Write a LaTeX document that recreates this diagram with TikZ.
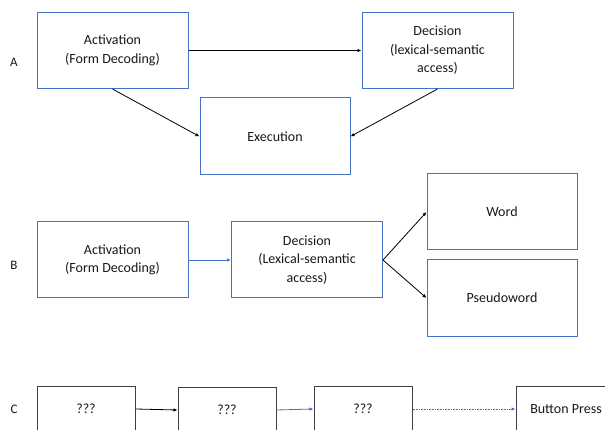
\documentclass[tikz,border=0pt]{standalone}
\usepackage{fontspec}
\setmainfont{Carlito}
\usetikzlibrary{arrows.meta}
\definecolor{bbox}{HTML}{4472C4}
\definecolor{gbox}{HTML}{404040}
\begin{document}
\begin{tikzpicture}[x=1pt,y=-1pt,
  every node/.style={font=\fontsize{14}{18.5}\selectfont, text=black!90},
  bluebox/.style={draw=bbox, line width=1pt, minimum width=151pt, minimum height=76pt, align=center, inner sep=0pt},
  graybox/.style={draw=gbox, line width=1pt, minimum width=98pt, minimum height=46pt, align=center, inner sep=0pt},
  lab/.style={font=\fontsize{13}{15}\selectfont},
  arr/.style={-{Latex[length=4pt,width=3.5pt]}, line width=0.8pt, draw=black},
  barr/.style={-{Latex[length=4pt,width=3.5pt]}, line width=0.8pt, draw=bbox},
  darr/.style={-{Latex[length=4pt,width=3.5pt]}, line width=0.8pt, draw=bbox, dash pattern=on 1pt off 0.6pt}
]
\useasboundingbox (0,0) rectangle (605,430);
\clip (0,0) rectangle (605,430);
\fill[white] (0,0) rectangle (605,430);
% Row A
\node[lab] (la) at (14,62) {A};
\node[bluebox] (aa) at (112.5,50.5) {Activation\\(Form Decoding)};
\node[bluebox] (da) at (437.5,50.5) {Decision\\(lexical-semantic\\access)};
\node[bluebox, minimum width=150pt, minimum height=77pt] (ex) at (275,136.5) {Execution};
\draw[arr] (aa.east) -- (da.west);
\draw[arr] (aa.south) -- (ex.west);
\draw[arr] (da.south) -- (ex.east);
% Row B
\node[lab] (lb) at (14,265) {B};
\node[bluebox] (ab) at (112.5,260) {Activation\\(Form Decoding)};
\node[bluebox] (db) at (307,260) {Decision\\(Lexical-semantic\\access)};
\node[bluebox, minimum width=150pt] (wd) at (502,212) {Word};
\node[bluebox, minimum width=150pt] (pw) at (502,298) {Pseudoword};
\draw[barr] (ab.east) -- (db.west);
\draw[arr] (db.east) -- (wd.west);
\draw[arr] (db.east) -- (pw.west);
% Row C
\node[lab] (lc) at (14,409) {C};
\node[graybox] (c1) at (86,409) {???};
\node[graybox] (c2) at (227,410) {???};
\node[graybox] (c3) at (363,409) {???};
\node[graybox, minimum width=100pt] (c4) at (566,409) {Button Press};
\draw[arr] (c1.east) -- (c2.west);
\draw[barr] (c2.east) -- (c3.west);
\draw[darr] (c3.east) -- (c4.west);
\end{tikzpicture}
\end{document}
